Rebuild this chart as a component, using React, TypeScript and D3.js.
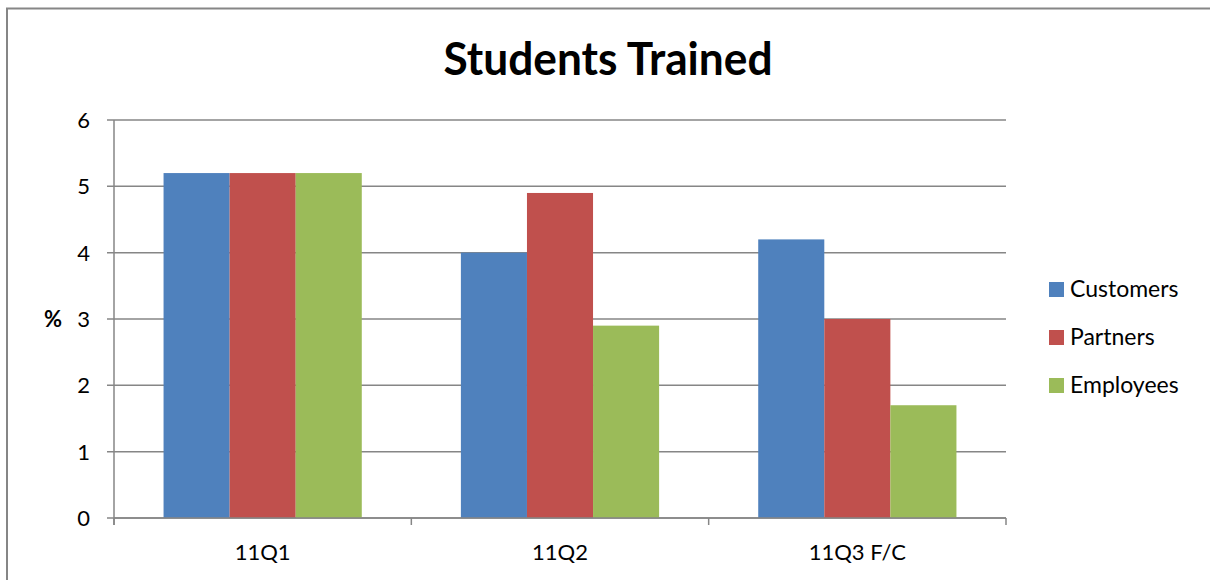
import React from "react";
import * as d3 from "d3";

const categories = ["11Q1", "11Q2", "11Q3 F/C"];
const seriesNames = ["Customers", "Partners", "Employees"];
const customers = [5.2, 4.0, 4.2];
const partners = [5.2, 4.9, 3.0];
const employees = [5.2, 2.9, 1.7];
const yTicks = [0, 1, 2, 3, 4, 5, 6];
const colors = ["#4F81BD", "#C0504D", "#9BBB59"];

const W = 1210;
const H = 580;
const plot = { left: 114, right: 1006, top: 120, bottom: 518 };
const FONT = "Lato, 'Open Sans', 'Liberation Sans', sans-serif";

export default function App() {
  const seriesValues = [customers, partners, employees];
  const x = d3.scaleBand<string>().domain(categories).range([plot.left, plot.right]).paddingInner(0).paddingOuter(0);
  const y = d3.scaleLinear().domain([0, 6]).range([plot.bottom, plot.top]);
  const bw = x.bandwidth();
  const barW = bw / (3 + 1.5);
  const gridColor = "#868686";
  return (
    <svg width={W} height={H} style={{ position: "absolute", left: 0, top: 0 }}>
      <rect x={0} y={0} width={W} height={H} fill="#fff" />
      <rect x={7} y={8.5} width={W + 10} height={H + 10} fill="none" stroke="#868686" strokeWidth={2} />
      <text x={608} y={75} textAnchor="middle" fontFamily={FONT} fontWeight="bold" fontSize={45} textLength={329} lengthAdjust="spacingAndGlyphs">
        Students Trained
      </text>
      {yTicks.map((t) => (
        <g key={t}>
          <line x1={plot.left - 7} x2={plot.right} y1={y(t)} y2={y(t)} stroke={gridColor} strokeWidth={1.5} />
          <text x={90} y={y(t) + 8} textAnchor="end" fontFamily={FONT} fontSize={22} fill="#000">
            {t}
          </text>
        </g>
      ))}
      {categories.map((c, i) =>
        seriesValues.map((vals, s) => {
          const x0 = (x(c) as number) + (bw - 3 * barW) / 2 + s * barW;
          return (
            <rect key={c + s} x={x0} y={y(vals[i])} width={barW} height={y(0) - y(vals[i])} fill={colors[s]} />
          );
        })
      )}
      <line x1={plot.left} x2={plot.left} y1={plot.top} y2={plot.bottom + 7} stroke={gridColor} strokeWidth={1.5} />
      <line x1={plot.left} x2={plot.right} y1={plot.bottom} y2={plot.bottom} stroke={gridColor} strokeWidth={1.5} />
      {[0, 1, 2, 3].map((k) => {
        const xv = plot.left + k * bw;
        return <line key={k} x1={xv} x2={xv} y1={plot.bottom} y2={plot.bottom + 7} stroke={gridColor} strokeWidth={1.5} />;
      })}
      {categories.map((c) => (
        <text key={c} x={(x(c) as number) + bw / 2} y={560} textAnchor="middle" fontFamily={FONT} fontSize={22} fill="#000">
          {c}
        </text>
      ))}
      <text x={53} y={327} textAnchor="middle" fontFamily={FONT} fontWeight="bold" fontSize={22} fill="#000">
        %
      </text>
      {seriesNames.map((n, s) => (
        <g key={n}>
          <rect x={1049} y={282 + s * 48} width={15} height={15} fill={colors[s]} />
          <text x={1070} y={297 + s * 48} fontFamily={FONT} fontSize={23} fill="#000">
            {n}
          </text>
        </g>
      ))}
    </svg>
  );
}
